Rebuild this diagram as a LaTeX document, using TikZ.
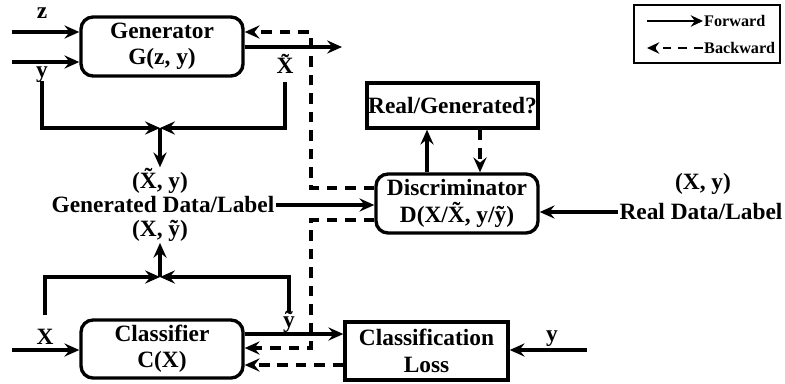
\documentclass[tikz,border=0pt]{standalone}
\usepackage{fontspec}
\setmainfont{Liberation Serif}
\usetikzlibrary{arrows.meta}

\begin{document}
\begin{tikzpicture}[x=0.2mm,y=-0.2mm,
  font=\fontsize{13.3}{15}\selectfont\bfseries,
  blk/.style={draw,line width=1.9pt,rounded corners=2.4mm,align=center,inner sep=0pt,
    minimum width=32.4mm,minimum height=11.8mm},
  sq/.style={draw,line width=1.9pt,align=center,inner sep=0pt},
  lbl/.style={inner sep=0.5pt,align=center},
  fwd/.style={line width=1.8pt,-{Stealth[length=8.5pt,width=7.5pt,inset=3pt]}},
  bwd/.style={fwd,dash pattern=on 6pt off 4.5pt},
  small/.style={font=\fontsize{9.2}{11}\selectfont\bfseries}]
  \useasboundingbox (0,0) rectangle (785,383);

  % blocks
  \node[blk] (gen) at (162,46.5) {Generator\\G(z, y)};
  \node[blk,minimum height=11.6mm] (cls) at (162,349) {Classifier\\C(X)};
  \node[blk] (dis) at (457,203.5) {Discriminator\\D(X/\~{X}, y/ỹ)};
  \node[sq,minimum width=34.2mm,minimum height=9mm] (rg) at (452.5,105.5) {Real/Generated?};
  \node[sq,minimum width=32.6mm,minimum height=11.6mm] (loss) at (426.5,351) {Classification\\Loss};

  % labels
  \node[lbl] (lz) at (42,13) {z};
  \node[lbl] (ly) at (42,75) {y};
  \node[lbl] (lxg) at (285,64) {\~{X}};
  \node[lbl] (gtop) at (160,181) {(\~{X}, y)};
  \node[lbl] (gdl) at (163,205) {Generated Data/Label};
  \node[lbl] (gbot) at (160,231) {(X, ỹ)};
  \node[lbl] (lx) at (45,337) {X};
  \node[lbl] (lyc) at (289,322) {ỹ};
  \node[lbl] (lyl) at (552,339) {y};
  \node[lbl] (rtop) at (703,184) {(X, y)};
  \node[lbl] (real) at (701,212) {Real Data/Label};

  % free ends and corners
  \coordinate (zin) at (12,32);
  \coordinate (yin) at (12,62);
  \coordinate (gout) at (342,47);
  \coordinate (ga) at (42,81);
  \coordinate (gb) at (285,82);
  \coordinate (jg) at (160,128);
  \coordinate (xa) at (45,315);
  \coordinate (ya) at (289,312);
  \coordinate (jc) at (160,277);
  \coordinate (xin) at (12,350);
  \coordinate (cout) at (243,334);
  \coordinate (lin) at (587,350);
  \coordinate (up) at (427,150);
  \coordinate (dn) at (480,150);
  \coordinate (bg) at (311,32);
  \coordinate (bd1) at (311,188);
  \coordinate (bd2) at (311,220);
  \coordinate (bc) at (311,348);
  \coordinate (bl) at (345,365);

  % forward
  \draw[fwd] (zin) -- (zin -| gen.west);
  \draw[fwd] (yin) -- (yin -| gen.west);
  \draw[fwd] (gout -| gen.east) -- (gout);
  \draw[fwd] (ga) |- (jg);
  \draw[fwd] (gb) |- (jg);
  \draw[fwd] (jg) -- (gtop.north);
  \draw[fwd] (xa) |- (jc);
  \draw[fwd] (ya) |- (jc);
  \draw[fwd] (jc) -- (gbot.south);
  \draw[fwd] (gdl.east) -- (gdl.east -| dis.west);
  \draw[fwd] (real.west) -- (real.west -| dis.east);
  \draw[fwd] (xin) -- (xin -| cls.west);
  \draw[fwd] (cout -| cls.east) -- (cout -| loss.west);
  \draw[fwd] (lin) -- (lin -| loss.east);
  \draw[fwd] (up |- dis.north) -- (up |- rg.south);

  % backward
  \draw[bwd] (dn |- rg.south) -- (dn |- dis.north);
  \draw[bwd] (bd1 -| dis.west) -- (bd1) -- (bg) -- (bg -| gen.east);
  \draw[bwd] (bd2 -| dis.west) -- (bd2) -- (bc) -- (bc -| cls.east);
  \draw[bwd] (bl -| loss.west) -- (bl -| cls.east);

  % legend
  \draw[line width=1.3pt] (634,5) rectangle (780,63);
  \node[lbl,small,anchor=west] (lf) at (703,21) {Forward};
  \node[lbl,small,anchor=west] (lb) at (703,48) {Backward};
  \coordinate (la) at (647,21);
  \coordinate (lc) at (647,48);
  \draw[line width=1.5pt,-{Stealth[length=7pt,width=6.5pt,inset=2.4pt]}] (la) -- (lf.west);
  \draw[line width=1.5pt,dash pattern=on 5pt off 4pt,-{Stealth[length=7pt,width=6.5pt,inset=2.4pt]}] (lb.west) -- (lc);
\end{tikzpicture}
\end{document}
